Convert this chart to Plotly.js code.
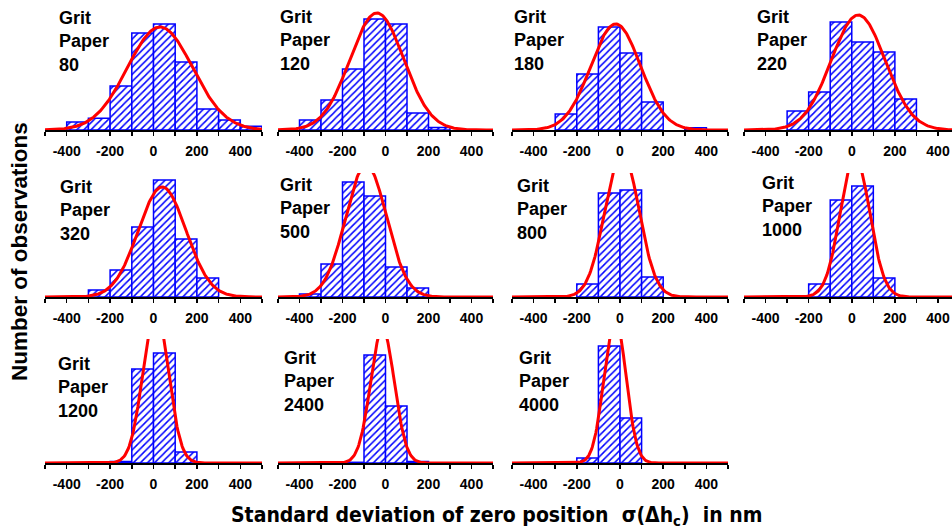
<!DOCTYPE html>
<html>
<head>
<meta charset="utf-8">
<script src="https://cdn.plot.ly/plotly-3.0.1.min.js"></script>
<style>html,body{margin:0;padding:0;background:#fff}#chart{width:952px;height:532px}</style>
</head>
<body>
<div id="chart"></div>
<script>
// ---- data ----
const gritPapers = ['80', '120', '180', '220', '320', '500', '800', '1000', '1200', '2400', '4000'];
const binStart = [-400, -300, -200, -100, 0, 100, 200, 300, 400];   // 100 nm wide bins
const obs80   = [8, 11.7, 44, 97, 106, 68, 21, 10, 3.7];
const obs120  = [10, 30, 61, 111, 106, 17, 2.5, null, null];
const obs180  = [null, 16, 56, 103, 77, 28, null, 2.3, null];
const obs220  = [null, 19, 38, 108, 88, 78, 31, null, null];
const obs320  = [null, 7, 27, 70, 117, 58, 19, null, null];
const obs500  = [3, 33, 115, 101, 30, 9, null, null, null];
const obs800  = [null, null, 13, 104, 107, 20, null, null, null];
const obs1000 = [null, null, 13, 97, 111, 19, null, null, null];
const obs1200 = [null, null, 1.5, 94, 110, 11, null, null, null];
const obs2400 = [null, null, 0.7, 108, 57, 1.5, null, null, null];
const obs4000 = [null, null, 5, 117, 45, null, null, null, null];
const observations = [obs80, obs120, obs180, obs220, obs320, obs500, obs800, obs1000, obs1200, obs2400, obs4000];
// fitted normal curves: mean, standard deviation, peak height
const fitMean  = [30, -40, -20, 30, 40, -90, 9, 15, 10, -14, -23];
const fitSigma = [150, 125, 115, 125, 110, 95, 78, 68, 58, 55, 50];
const fitPeak  = [103, 117, 106, 115, 110, 132, 145, 140, 153, 134, 146];
const tickValues = [-400, -200, 0, 200, 400];
const tickLabels = ['-400', '-200', '0', '200', '400'];

// ---- layout geometry (pixels) ----
const W = 952, H = 532;
const colX = [[45, 262], [278, 493], [512, 728], [744, 952]];
const colRange = [[-500, 500], [-500, 500], [-500, 500], [-500, 465]];
const rowBase = [130, 297, 463];
const plotH = 124;
const labelPos = [[57, 23], [278, 22], [512, 22], [755, 22], [58, 192], [278, 190], [515, 191], [760, 188], [56, 369], [282, 363], [517, 363]];

const traces = [];
const layout = {
  width: W, height: H,
  margin: {l: 0, r: 0, t: 0, b: 0},
  paper_bgcolor: '#ffffff', plot_bgcolor: 'rgba(0,0,0,0)',
  showlegend: false,
  font: {family: 'Liberation Sans, Arial, sans-serif', color: '#000'},
  annotations: []
};

gritPapers.forEach((g, i) => {
  const k = i + 1;
  const col = i % 4, row = Math.floor(i / 4);
  const xa = 'x' + k, ya = 'y' + k;
  // histogram bars
  traces.push({
    type: 'bar', x: binStart, y: observations[i], width: 100, offset: 0,
    xaxis: xa, yaxis: ya, hoverinfo: 'skip',
    marker: {
      color: '#ffffff',
      line: {color: '#0000ff', width: 1.5},
      pattern: {shape: '/', fgcolor: '#0000ff', bgcolor: '#ffffff', size: 5, solidity: 0.3}
    }
  });
  // fitted normal curve
  const cx = [], cy = [];
  for (let x = -500; x <= 500; x += 4) {
    cx.push(x);
    cy.push(fitPeak[i] * Math.exp(-Math.pow(x - fitMean[i], 2) / (2 * fitSigma[i] * fitSigma[i])));
  }
  traces.push({
    type: 'scatter', mode: 'lines', x: cx, y: cy, xaxis: xa, yaxis: ya,
    line: {color: '#ff0000', width: 3}, hoverinfo: 'skip'
  });
  const xname = 'xaxis' + (k === 1 ? '' : k), yname = 'yaxis' + (k === 1 ? '' : k);
  layout[xname] = {
    domain: [colX[col][0] / W, colX[col][1] / W], anchor: ya,
    range: colRange[col], showgrid: false, zeroline: false,
    showline: true, linecolor: '#000', linewidth: 2, layer: 'below traces',
    tickmode: 'array', tickvals: tickValues, ticktext: tickLabels,
    ticks: 'outside', ticklen: 4, tickwidth: 1.5, tickcolor: '#000',
    minor: {tickmode: 'linear', tick0: -500, dtick: 100, ticks: 'outside', ticklen: 4, tickwidth: 1.5, tickcolor: '#000'},
    ticklabelstandoff: 3, ticklabeloverflow: 'allow',
    tickfont: {family: 'Liberation Sans, Arial, sans-serif', size: 14, color: '#000', weight: 'bold'},
    fixedrange: true
  };
  layout[yname] = {
    domain: [1 - rowBase[row] / H, 1 - (rowBase[row] - plotH) / H], anchor: xa,
    range: [0, plotH], visible: false, fixedrange: true
  };
  layout.annotations.push({
    xref: 'paper', yref: 'paper', x: labelPos[i][0] / W, y: 1 - (labelPos[i][1] - 17) / H,
    xanchor: 'left', yanchor: 'top', align: 'left', showarrow: false,
    text: 'Grit<br>Paper<br>' + g,
    font: {family: 'Liberation Sans, Arial, sans-serif', size: 18, color: '#000', weight: 'bold'}
  });
});

layout.annotations.push({
  xref: 'paper', yref: 'paper', x: 20 / W, y: 1 - 252 / H, textangle: -90,
  xanchor: 'center', yanchor: 'middle', showarrow: false,
  text: 'Number of observations',
  font: {family: 'Liberation Sans, Arial, sans-serif', size: 22.5, color: '#000', weight: 'bold'}
});
layout.annotations.push({
  xref: 'paper', yref: 'paper', x: 496 / W, y: 1 - 516 / H,
  xanchor: 'center', yanchor: 'middle', showarrow: false,
  text: 'Standard deviation of zero position\u00a0\u00a0σ(Δh<sub>c</sub>)\u00a0\u00a0in nm',
  font: {family: 'Liberation Sans Narrow, Arial Narrow, DejaVu Sans Condensed, sans-serif', size: 21, color: '#000', weight: 'bold'}
});

Plotly.newPlot('chart', traces, layout, {staticPlot: true, displayModeBar: false});
</script>
</body>
</html>
